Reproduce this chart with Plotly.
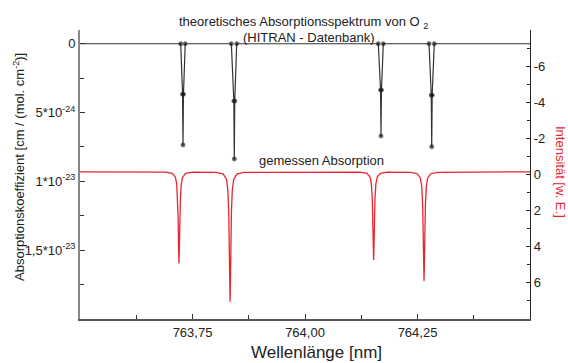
import plotly.graph_objects as go

FONT = "Liberation Sans, Arial, sans-serif"

# HITRAN line list (stick spectrum), absorption coefficient in cm/(mol. cm^-2)
hitran_wl = [763.5,
             763.7238, 763.7279, 763.7289, 763.7299, 763.7338,
             763.8363, 763.8419, 763.8429, 763.8439, 763.8482,
             764.1629, 764.1679, 764.1689, 764.1699, 764.1740,
             764.2756, 764.2806, 764.2816, 764.2826, 764.2873,
             764.5]
hitran_k = [0,
            0, 3.67e-24, 7.35e-24, 3.67e-24, 0,
            0, 4.16e-24, 8.37e-24, 4.16e-24, 0,
            0, 3.36e-24, 6.70e-24, 3.36e-24, 0,
            0, 3.74e-24, 7.48e-24, 3.74e-24, 0,
            0]

# measured absorption, intensity in arbitrary units
meas_wl = [763.5,
           763.690, 763.705, 763.712, 763.715, 763.717, 763.718, 763.719, 763.720,
           763.721, 763.722, 763.723, 763.725, 763.728, 763.735, 763.750,
           763.8035, 763.8185, 763.8255, 763.8285, 763.8305, 763.8315, 763.8325, 763.8335,
           763.8345, 763.8355, 763.8365, 763.8385, 763.8415, 763.8485, 763.8635,
           764.1225, 764.1375, 764.1445, 764.1475, 764.1495, 764.1505, 764.1515, 764.1525,
           764.1535, 764.1545, 764.1555, 764.1575, 764.1605, 764.1675, 764.1825,
           764.2345, 764.2495, 764.2565, 764.2595, 764.2615, 764.2625, 764.2635, 764.2645,
           764.2655, 764.2665, 764.2675, 764.2695, 764.2725, 764.2795, 764.2945,
           764.5]
meas_int = [-0.15,
            -0.128, -0.061, 0.148, 0.55, 1.41, 2.385, 3.906, 4.92,
            3.906, 2.385, 1.41, 0.55, 0.148, -0.061, -0.128,
            -0.118, -0.024, 0.273, 0.842, 2.065, 3.445, 5.602, 7.04,
            5.602, 3.445, 2.065, 0.842, 0.273, -0.024, -0.118,
            -0.129, -0.065, 0.137, 0.523, 1.353, 2.29, 3.754, 4.73,
            3.754, 2.29, 1.353, 0.523, 0.137, -0.065, -0.129,
            -0.123, -0.044, 0.206, 0.685, 1.713, 2.875, 4.69, 5.90,
            4.69, 2.875, 1.713, 0.685, 0.206, -0.044, -0.123,
            -0.15]

x_ticks = [763.75, 764.00, 764.25]
x_ticktext = ["763,75", "764,00", "764,25"]
x_minor = [763.5, 763.625, 763.875, 764.125, 764.375]

k_ticks = [0, 5e-24, 1e-23, 1.5e-23]
k_ticktext = ["0", "5*10<sup>-24</sup>", "1*10<sup>-23</sup>", "1,5*10<sup>-23</sup>"]
k_minor = [2.5e-24, 7.5e-24, 1.25e-23, 1.75e-23, 2e-23]

i_ticks = [-8, -6, -4, -2, 0, 2, 4, 6]
i_ticktext = ["", "-6", "-4", "-2", "0", "2", "4", "6"]
i_minor = [-7, -5, -3, -1, 1, 3, 5, 7]

RED = "#e8262d"

fig = go.Figure()

fig.add_trace(go.Scatter(
    x=hitran_wl, y=hitran_k, mode="lines+markers",
    line=dict(color="#333333", width=1.2),
    marker=dict(color="#111111", size=[0] + [4] * (len(hitran_wl) - 2) + [0]),
    yaxis="y", showlegend=False, hoverinfo="skip",
))

fig.add_trace(go.Scatter(
    x=meas_wl, y=meas_int, mode="lines",
    line=dict(color=RED, width=1.3),
    yaxis="y2", showlegend=False, hoverinfo="skip",
))

fig.update_layout(
    width=568, height=363,
    margin=dict(l=80, r=38, t=30, b=44),
    paper_bgcolor="white", plot_bgcolor="white",
    font=dict(family=FONT, size=13, color="#222222"),
    xaxis=dict(
        range=[763.5, 764.5], tickvals=x_ticks, ticktext=x_ticktext,
        ticks="inside", ticklen=5, tickwidth=1, tickcolor="#333",
        minor=dict(tickvals=x_minor, ticks="inside", ticklen=4, tickcolor="#333"),
        showline=True, linecolor="#555555", linewidth=2,
        showgrid=False, zeroline=False, mirror=False,
        tickfont=dict(size=13),
    ),
    yaxis=dict(
        range=[2e-23, -1e-24], tickvals=k_ticks, ticktext=k_ticktext,
        ticks="inside", ticklen=5, tickwidth=1, tickcolor="#333",
        minor=dict(tickvals=k_minor, ticks="inside", ticklen=4, tickcolor="#333"),
        showline=True, linecolor="#888888", linewidth=2,
        showgrid=False, zeroline=False,
        tickfont=dict(size=13),
    ),
    yaxis2=dict(
        range=[8, -8], tickvals=i_ticks, ticktext=i_ticktext,
        overlaying="y", side="right",
        ticks="inside", ticklen=4, tickwidth=1, tickcolor="#222",
        minor=dict(tickvals=i_minor, ticks="inside", ticklen=3, tickcolor="#222"),
        showline=True, linecolor="#222222", linewidth=1.2,
        showgrid=False, zeroline=False,
        tickfont=dict(size=13),
    ),
)

def px_x(px):
    return (px - 80) / 450.0

def px_y(py):
    return (319 - py) / 289.0

annotations = [
    dict(text="theoretisches Absorptionsspektrum von O <sub>2</sub>",
         x=px_x(303), y=px_y(22), font=dict(size=13)),
    dict(text="(HITRAN - Datenbank)", x=px_x(308), y=px_y(37), font=dict(size=13)),
    dict(text="gemessen Absorption", x=px_x(321), y=px_y(161), font=dict(size=13)),
    dict(text="Wellenlänge [nm]", x=px_x(316), y=px_y(352), font=dict(size=17)),
    dict(text="Absorptionskoeffizient [cm / (mol. cm<sup>-2</sup>)]",
         x=px_x(19), y=px_y(167), textangle=-90, font=dict(size=13)),
    dict(text="Intensität [w. E.]", x=px_x(561), y=px_y(172), textangle=90,
         font=dict(size=13, color=RED)),
]
for a in annotations:
    a.update(xref="paper", yref="paper", showarrow=False,
             xanchor="center", yanchor="middle")
fig.update_layout(annotations=annotations)

fig.write_html("out.html")
